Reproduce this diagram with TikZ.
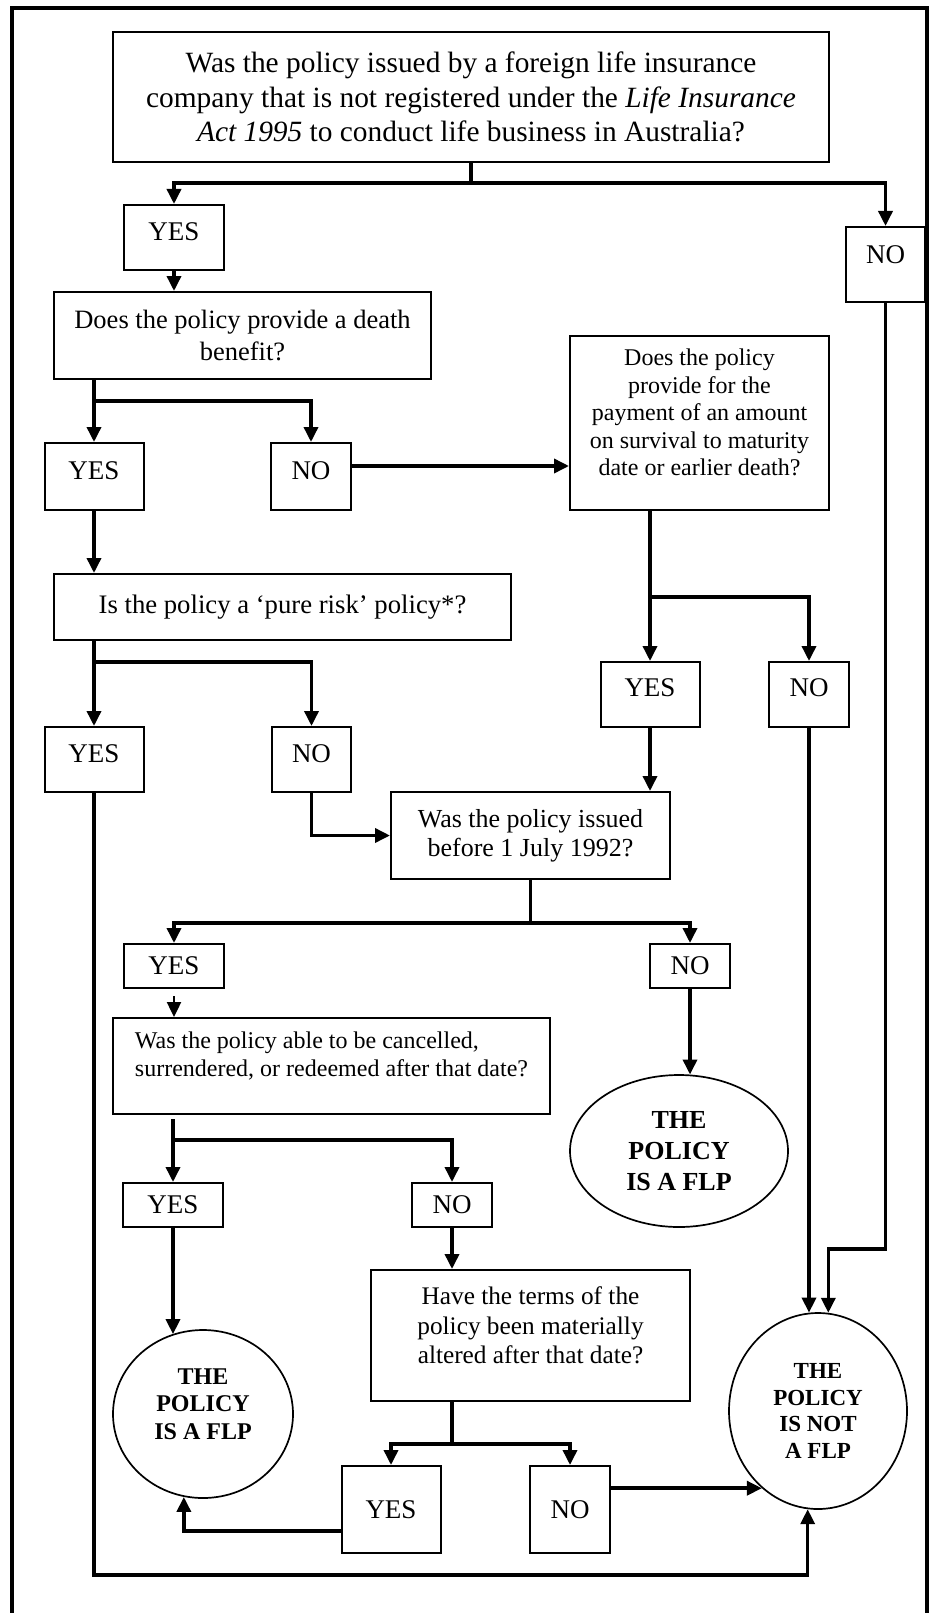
\documentclass[tikz,border=0pt]{standalone}
\usepackage{fontspec}
\setmainfont{Liberation Serif}
\usetikzlibrary{arrows.meta,shapes.geometric}
\begin{document}
\begin{tikzpicture}[x=1pt,y=-1pt,
  box/.style={draw,line width=2pt,rectangle,inner sep=2pt,align=center},
  yn/.style={box,font=\fontsize{27}{31}\selectfont},
  endo/.style={draw,line width=1.7pt,ellipse,inner sep=0pt,align=center},
  tip/.style={-{Triangle[length=15pt,width=14pt]}},
  conn/.style={line width=3.5pt,tip},
  thinconn/.style={line width=2.4pt,tip},
  stem/.style={line width=3.5pt},
  bar/.style={line width=3.5pt,tip}
]
\useasboundingbox (0,0) rectangle (935,1613);
\draw[line width=3.3pt] (12,1620) -- (12,8) -- (927,8) -- (927,1620);

% question boxes
\node[box,minimum width=716pt,minimum height=130pt,font=\fontsize{29.4}{34.5}\selectfont] (q1) at (471,97)
  {Was the policy issued by a foreign life insurance\\ company that is not registered under the \textit{Life Insurance}\\ \textit{Act 1995} to conduct life business in Australia?};
\node[box,minimum width=377pt,minimum height=87pt,font=\fontsize{26.5}{32}\selectfont] (q2) at (242.5,335.5)
  {Does the policy provide a death\\ benefit?};
\node[box,minimum width=259pt,minimum height=174pt,font=\fontsize{24}{27.5}\selectfont,text depth=21pt] (q3) at (699.5,423)
  {Does the policy\\ provide for the\\ payment of an amount\\ on survival to maturity\\ date or earlier death?};
\node[box,minimum width=457pt,minimum height=66pt,font=\fontsize{26.7}{32}\selectfont] (q4) at (282.5,607)
  {Is the policy a ‘pure risk’ policy*?};
\node[box,minimum width=279pt,minimum height=87pt,font=\fontsize{26}{29}\selectfont] (q5) at (530.5,835.5)
  {Was the policy issued\\ before 1 July 1992?};
\node[box,minimum width=437pt,minimum height=96pt,font=\fontsize{24}{28}\selectfont,align=left,text depth=23pt] (q6) at (331.5,1066)
  {Was the policy able to be cancelled,\\ surrendered, or redeemed after that date?};
\node[box,minimum width=319pt,minimum height=131pt,font=\fontsize{25.3}{29.5}\selectfont,text depth=20.5pt] (q7) at (530.5,1335.5)
  {Have the terms of the\\ policy been materially\\ altered after that date?};

% yes / no boxes
\node[yn,minimum width=100pt,minimum height=65pt,text depth=12pt] (y1) at (174,237.5) {YES};
\node[yn,minimum width=79pt,minimum height=75pt,text depth=19pt] (n1) at (885.5,264.5) {NO};
\node[yn,minimum width=99pt,minimum height=67pt,text depth=12pt] (y2) at (94,476.5) {YES};
\node[yn,minimum width=80pt,minimum height=67pt,text depth=12pt] (n2) at (311,476.5) {NO};
\node[yn,minimum width=99pt,minimum height=65pt,text depth=12pt] (y3) at (94,759.5) {YES};
\node[yn,minimum width=79pt,minimum height=65pt,text depth=12pt] (n3) at (311.5,759.5) {NO};
\node[yn,minimum width=99pt,minimum height=65pt,text depth=14pt] (y4) at (650,694.5) {YES};
\node[yn,minimum width=80pt,minimum height=65pt,text depth=14pt] (n4) at (809,694.5) {NO};
\node[yn,minimum width=100pt,minimum height=44pt] (y5) at (174,966) {YES};
\node[yn,minimum width=80pt,minimum height=44pt] (n5) at (690,966) {NO};
\node[yn,minimum width=100pt,minimum height=44pt] (y6) at (173,1205) {YES};
\node[yn,minimum width=80pt,minimum height=44pt] (n6) at (452,1205) {NO};
\node[yn,minimum width=99pt,minimum height=87pt] (y7) at (391,1509.5) {YES};
\node[yn,minimum width=80pt,minimum height=87pt] (n7) at (570,1509.5) {NO};

% end ellipses
\node[endo,minimum width=218pt,minimum height=152pt,font=\fontsize{26}{31}\selectfont\bfseries] (c1) at (679,1151)
  {THE\\ POLICY\\ IS A FLP};
\node[endo,minimum width=180pt,minimum height=168pt,font=\fontsize{24}{27.5}\selectfont\bfseries,text depth=20pt] (c2) at (203,1414)
  {THE\\ POLICY\\ IS A FLP};
\node[endo,minimum width=178pt,minimum height=196pt,font=\fontsize{23}{26.7}\selectfont\bfseries] (c3) at (818,1411)
  {THE\\ POLICY\\ IS NOT\\ A FLP};

% connectors
\coordinate (j1) at (471,183);
\draw[stem] (q1.south) -- (j1);
\draw[bar] (j1) -| (y1.north);
\draw[bar] (j1) -| (n1.north);
\draw[conn] (y1.south) -- (y1.south |- q2.north);

\coordinate (j2) at (94,401);
\draw[stem] (q2.south -| j2) -- (j2);
\draw[bar] (j2) -- (y2.north);
\draw[bar] (j2) -| (n2.north);
\coordinate (h2) at (0,466);
\draw[bar] (n2.east |- h2) -- (q3.west |- h2);
\draw[conn] (y2.south) -- (y2.south |- q4.north);

\coordinate (j4) at (94,662);
\draw[stem] (q4.south -| j4) -- (j4);
\draw[bar] (j4) -- (y3.north);
\draw[bar] (j4) -| (n3.north);

\coordinate (j3) at (650,597);
\draw[stem] (q3.south -| j3) -- (j3);
\draw[bar] (j3) -- (y4.north);
\draw[bar] (j3) -| (n4.north);
\draw[conn] (y4.south) -- (y4.south |- q5.north);
\draw[bar] (n3.south) |- (q5.west);

\coordinate (j5) at (530.5,923);
\draw[stem] (q5.south) -- (j5);
\draw[bar] (j5) -| (y5.north);
\draw[bar] (j5) -| (n5.north);
\draw[thinconn,shorten <=7pt] (y5.south) -- (y5.south |- q6.north);
\draw[conn] (n5.south) -- (n5.south |- c1.82);

\coordinate (j6) at (173,1140);
\draw[stem,shorten <=4pt] (q6.south -| j6) -- (j6);
\draw[bar] (j6) -- (y6.north);
\draw[bar] (j6) -| (n6.north);
\draw[conn] (y6.south) -- (y6.south |- c2.111);
\draw[conn] (n6.south) -- (n6.south |- q7.north);

\coordinate (j7) at (452,1444);
\draw[stem] (q7.south -| j7) -- (j7);
\draw[bar] (j7) -| (y7.north);
\draw[bar] (j7) -| (n7.north);
\coordinate (h7) at (0,1531);
\draw[conn] (y7.west |- h7) -| (c2.257);
\draw[bar] (n7.east |- c3.234) -- (c3.234);

\coordinate (lb) at (94,1575);
\draw[conn] (y3.south) -- (lb) -| (c3.264);
\draw[conn] (n4.south) -- (n4.south |- c3.95);
\draw[conn] (n1.south) -- ++(0,946) -| (c3.84);
\end{tikzpicture}
\end{document}
